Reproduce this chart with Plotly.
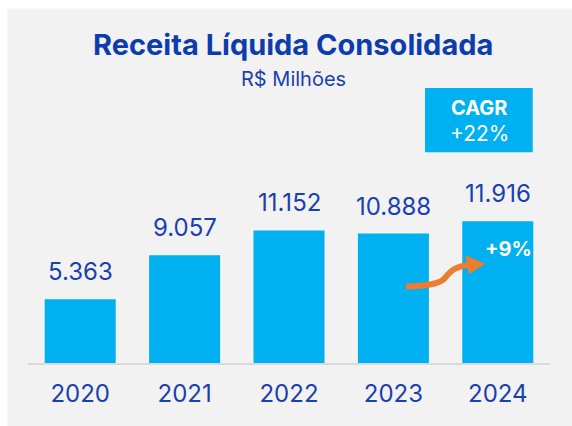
import plotly.graph_objects as go

years = ["2020", "2021", "2022", "2023", "2024"]
receita = [5363, 9057, 11152, 10888, 11916]
value_labels = ["5.363", "9.057", "11.152", "10.888", "11.916"]
title_text = "Receita Líquida Consolidada"
subtitle_text = "R$ Milhões"
cagr_label = "CAGR"
cagr_value = "+22%"
growth_label = "+9%"

W, H = 572, 426
L, R, T, B = 28, 22, 40, 63
PW, PH = W - L - R, H - T - B

def px(x):
    return (x - L) / PW

def py(y):
    return (H - B - y) / PH

BLUE = "#1a3fb0"
CYAN = "#00b0f0"
FONT = "Inter"

fig = go.Figure()
fig.add_trace(go.Bar(x=years, y=receita, marker=dict(color=CYAN, line=dict(width=0)),
                     hoverinfo="skip"))

ann = []
for i, (v, lab) in enumerate(zip(receita, value_labels)):
    ann.append(dict(x=i, y=v, xref="x", yref="y", text=lab, showarrow=False,
                    yanchor="bottom", yshift=11,
                    font=dict(family=FONT, size=24, color=BLUE)))

ann.append(dict(x=px(293), y=py(45), xref="paper", yref="paper", text="<b>" + title_text + "</b>",
                showarrow=False, xanchor="center", yanchor="middle",
                font=dict(family=FONT, size=29, color="#0d3cae")))
ann.append(dict(x=px(293.5), y=py(78.5), xref="paper", yref="paper", text=subtitle_text,
                showarrow=False, xanchor="center", yanchor="middle",
                font=dict(family=FONT, size=20, color=BLUE)))
ann.append(dict(x=px(479), y=py(108), xref="paper", yref="paper", text="<b>" + cagr_label + "</b>",
                showarrow=False, xanchor="center", yanchor="middle",
                font=dict(family=FONT, size=20, color="white")))
ann.append(dict(x=px(479), y=py(133), xref="paper", yref="paper", text=cagr_value,
                showarrow=False, xanchor="center", yanchor="middle",
                font=dict(family=FONT, size=21, color="white")))
ann.append(dict(x=px(508), y=py(249.5), xref="paper", yref="paper", text="<b>" + growth_label + "</b>",
                showarrow=False, xanchor="center", yanchor="middle",
                font=dict(family=FONT, size=20, color="white")))

def pth(points_cmd):
    out = []
    for tok in points_cmd:
        if isinstance(tok, str):
            out.append(tok)
        else:
            out.append(f"{px(tok[0]):.5f},{py(tok[1]):.5f}")
    return " ".join(out)

shapes = [
    dict(type="rect", xref="paper", yref="paper", x0=px(7.3), x1=px(575), y0=py(430), y1=py(8.5),
         fillcolor="#f2f2f2", line=dict(width=0), layer="below"),
    dict(type="rect", xref="paper", yref="paper", x0=px(425), x1=px(532.7), y0=py(152.3), y1=py(88),
         fillcolor=CYAN, line=dict(width=0), layer="above"),
    dict(type="path", xref="paper", yref="paper",
         path=pth(["M", (406, 286.5), "C", (425, 286), (438, 284.5), (444, 279),
                   "C", (450, 272), (454, 266.5), (469, 265)]),
         line=dict(color="#ed7d31", width=6), layer="above"),
    dict(type="path", xref="paper", yref="paper",
         path=pth(["M", (466, 256), "L", (484.5, 264), "L", (469, 273.5), "Z"]),
         fillcolor="#ed7d31", line=dict(color="#ed7d31", width=1), layer="above"),
]

fig.update_layout(
    width=W, height=H, margin=dict(l=L, r=R, t=T, b=B, autoexpand=False),
    paper_bgcolor="white", plot_bgcolor="rgba(0,0,0,0)",
    showlegend=False, bargap=0.32,
    annotations=ann, shapes=shapes,
    xaxis=dict(type="category", range=[-0.5, len(years) - 0.5], showline=True,
               linecolor="#d9d9d9", linewidth=2, showgrid=False,
               ticks="outside", ticklen=8, tickcolor="rgba(0,0,0,0)", automargin=False,
               tickfont=dict(family=FONT, size=24, color=BLUE), fixedrange=True),
    yaxis=dict(range=[0, PH * 84.1], visible=False, showgrid=False, zeroline=False, fixedrange=True),
)

fig.write_html("out.html", config={"displayModeBar": False},
               post_script="document.body.style.margin='0';document.documentElement.style.overflow='hidden';document.body.style.overflow='hidden';")
